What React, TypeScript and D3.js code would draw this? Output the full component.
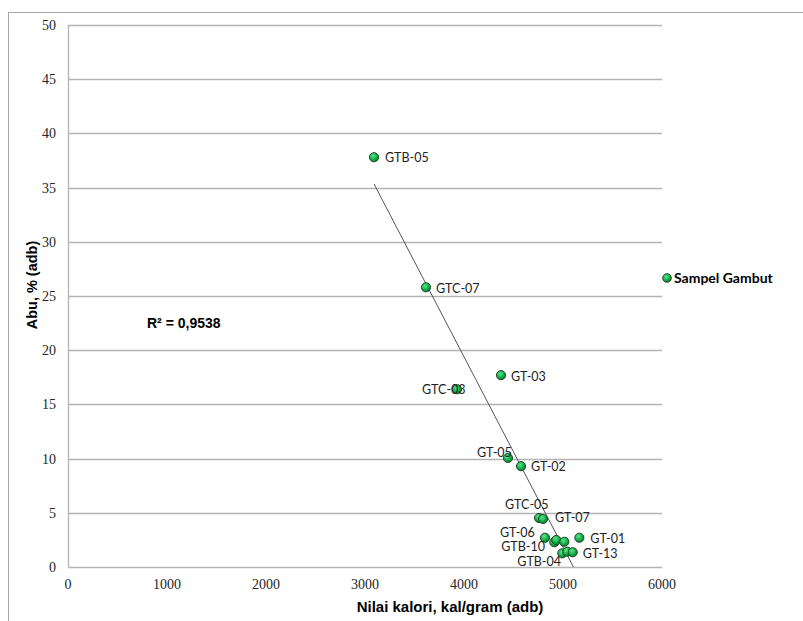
import React from "react";
import * as d3 from "d3";

// Calorific value (kal/gram, adb) and ash content (%, adb) of peat samples
const sampleNames = [
  "GTB-05", "GTC-07", "GTC-03", "GT-03", "GT-05", "GT-02", "GTC-05", "GT-07",
  "GT-06", "GTB-10", "", "", "GT-01", "GTB-04", "", "GT-13",
];
const calorificValues = [
  3091, 3616, 3929, 4374, 4444, 4576, 4758, 4798,
  4818, 4912, 4932, 5013, 5165, 4993, 5043, 5098,
];
const ashValues = [
  37.8, 25.8, 16.4, 17.7, 10.06, 9.3, 4.52, 4.43,
  2.7, 2.28, 2.49, 2.33, 2.7, 1.26, 1.41, 1.36,
];
const xTicks = [0, 1000, 2000, 3000, 4000, 5000, 6000];
const yTicks = [0, 5, 10, 15, 20, 25, 30, 35, 40, 45, 50];
const seriesName = "Sampel Gambut";
const rSquaredText = "R² = 0,9538";
const xTitle = "Nilai  kalori, kal/gram (adb)";
const yTitle = "Abu, % (adb)";

// Data-label placement relative to each marker (px)
const labelOffsets: Record<string, [number, number]> = {
  "GTB-05": [11, 0],
  "GTC-07": [10, 1],
  "GTC-03": [-35, 0],
  "GT-03": [10, 1],
  "GT-05": [-31, -5],
  "GT-02": [10, 0],
  "GTC-05": [-34, -13],
  "GT-07": [12, -1],
  "GT-06": [-45, -5],
  "GTB-10": [-53, 4],
  "GT-01": [11, 1],
  "GT-13": [10, 1],
  "GTB-04": [-45, 8],
};

const W = 803;
const H = 621;
const plot = { left: 68, top: 25, right: 662, bottom: 567 };

export default function App() {
  const x = d3.scaleLinear().domain([0, 6000]).range([plot.left, plot.right]);
  const y = d3.scaleLinear().domain([0, 50]).range([plot.bottom, plot.top]);

  // Least-squares linear trendline over the sample range
  const mx = d3.mean(calorificValues) as number;
  const my = d3.mean(ashValues) as number;
  let sxy = 0;
  let sxx = 0;
  calorificValues.forEach((v, i) => {
    sxy += (v - mx) * (ashValues[i] - my);
    sxx += (v - mx) * (v - mx);
  });
  const slope = sxy / sxx;
  const intercept = my - slope * mx;
  const [xMin, xMax] = d3.extent(calorificValues) as [number, number];
  const trend = d3.line<number>()
    .x((v) => x(v))
    .y((v) => y(intercept + slope * v));

  const labelFont = "Lato, 'Open Sans', sans-serif";
  const tickFont = "'Liberation Serif', 'DejaVu Serif', serif";
  const titleFont = "'Liberation Sans', Arial, sans-serif";

  return (
    <svg
      width={W}
      height={H}
      style={{ position: "absolute", left: 0, top: 0, background: "#fff" }}
    >
      <defs>
        <radialGradient id="dot" cx="40%" cy="35%" r="70%">
          <stop offset="0%" stopColor="#5fe68a" />
          <stop offset="55%" stopColor="#13b14a" />
          <stop offset="100%" stopColor="#06752e" />
        </radialGradient>
        <clipPath id="plotClip">
          <rect x={plot.left} y={plot.top} width={plot.right - plot.left} height={plot.bottom - plot.top} />
        </clipPath>
      </defs>

      {/* chart frame */}
      <rect x={8.5} y={12.5} width={W} height={H} fill="none" stroke="#a6a6a6" strokeWidth={1} />

      {/* horizontal gridlines */}
      {yTicks.map((t) => (
        <line
          key={`g${t}`}
          x1={plot.left}
          x2={plot.right}
          y1={Math.round(y(t)) + 0.5}
          y2={Math.round(y(t)) + 0.5}
          stroke="#b3b3b3"
          strokeWidth={1.3}
        />
      ))}
      {/* value axis line */}
      <line x1={plot.left + 0.5} x2={plot.left + 0.5} y1={plot.top} y2={plot.bottom} stroke="#b3b3b3" strokeWidth={1.3} />

      {/* tick labels */}
      {yTicks.map((t) => (
        <text
          key={`y${t}`}
          x={56}
          y={y(t)}
          dy="0.35em"
          textAnchor="end"
          fontFamily={tickFont}
          fontSize={14}
          fill="#262626"
        >
          {t}
        </text>
      ))}
      {xTicks.map((t) => (
        <text
          key={`x${t}`}
          x={x(t)}
          y={589}
          textAnchor="middle"
          fontFamily={tickFont}
          fontSize={14}
          fill="#262626"
        >
          {t}
        </text>
      ))}

      {/* axis titles */}
      <text x={450} y={612} textAnchor="middle" fontFamily={titleFont} fontSize={15} fontWeight="bold" fill="#000">
        {xTitle}
      </text>
      <text
        transform={`translate(37,285) rotate(-90)`}
        textAnchor="middle"
        fontFamily={titleFont}
        fontSize={14.5}
        fontWeight="bold"
        fill="#000"
      >
        {yTitle}
      </text>

      {/* trendline */}
      <g clipPath="url(#plotClip)">
        <path d={trend([xMin, xMax]) as string} fill="none" stroke="#555" strokeWidth={1} />
      </g>

      {/* R² annotation */}
      <text x={147} y={328} fontFamily={titleFont} fontSize={14} fontWeight="bold" fill="#000">
        {rSquaredText}
      </text>

      {/* sample markers */}
      {calorificValues.map((v, i) => (
        <circle
          key={`p${i}`}
          cx={x(v)}
          cy={y(ashValues[i])}
          r={4.6}
          fill="url(#dot)"
          stroke="#1b3b22"
          strokeWidth={0.9}
        />
      ))}

      {/* sample labels */}
      {sampleNames.map((name, i) => {
        if (!name) return null;
        const [dx, dy] = labelOffsets[name] || [10, 0];
        return (
          <text
            key={`l${i}`}
            x={x(calorificValues[i]) + dx}
            y={y(ashValues[i]) + dy}
            dy="0.35em"
            fontFamily={labelFont}
            fontSize={12.5}
            fill="#222"
          >
            {name}
          </text>
        );
      })}

      {/* legend */}
      <circle cx={667} cy={278} r={4.3} fill="url(#dot)" stroke="#1b3b22" strokeWidth={0.9} />
      <text x={674} y={278} dy="0.35em" fontFamily={labelFont} fontSize={14} fontWeight="bold" fill="#000">
        {seriesName}
      </text>
    </svg>
  );
}
